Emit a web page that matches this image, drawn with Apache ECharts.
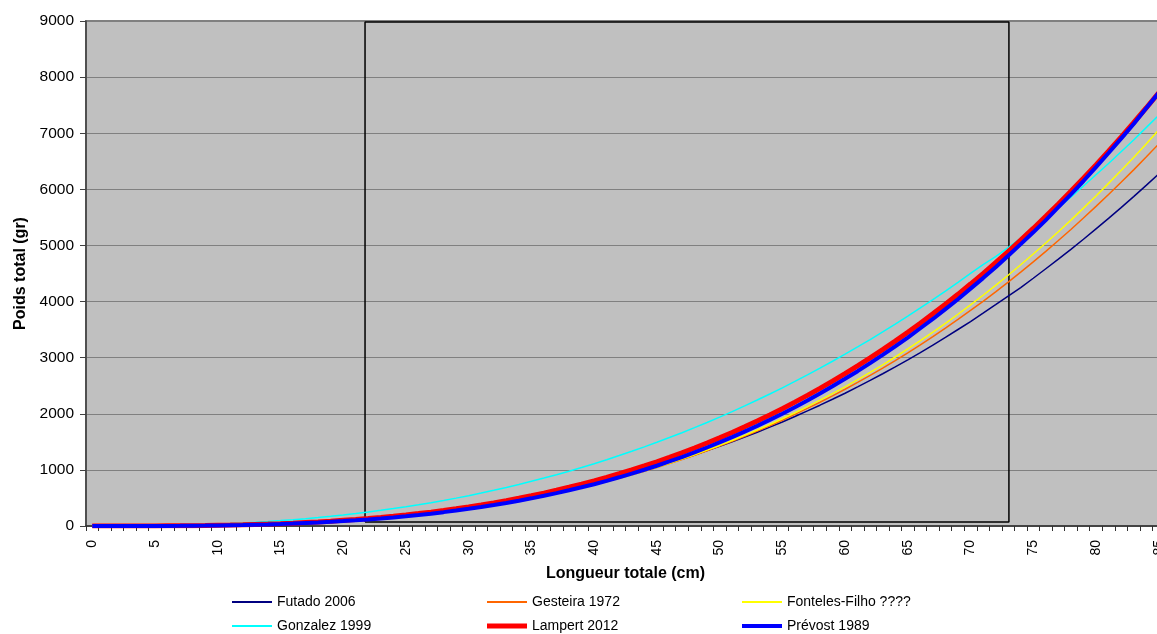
<!DOCTYPE html>
<html>
<head>
<meta charset="utf-8">
<script src="https://cdn.jsdelivr.net/npm/echarts@6/dist/echarts.min.js"></script>
<style>html,body{margin:0;padding:0;background:#fff;overflow:hidden;}#c{width:1157px;height:634px;}</style>
</head>
<body>
<div id="c"></div>
<script>
// Longueur totale (cm) categories 0..85
const lengths = [];
for (let i = 0; i <= 85; i++) lengths.push(String(i));

const futado = [0,0,0,1,1,2,4,6,8,12,16,20,26,33,40,49,59,69,81,95,109,125,143,162,182,204,228,253,280,309,339,372,407,444,482,523,566,611,659,708,760,814,872,931,993,1057,1124,1194,1266,1343,1420,1501,1585,1671,1762,1854,1951,2051,2153,2259,2366,2479,2594,2713,2835,2961,3090,3225,3360,3502,3644,3793,3944,4098,4250,4415,4585,4755,4930,5110,5296,5483,5675,5870,6070,6273];
const gesteira = [0,0,0,0,1,2,3,4,6,9,13,17,21,27,33,40,49,59,70,82,96,110,126,144,164,184,207,231,258,286,315,347,382,418,456,497,540,586,633,684,736,792,851,912,977,1043,1113,1186,1262,1341,1423,1509,1598,1690,1786,1885,1989,2095,2206,2319,2437,2559,2684,2815,2949,3086,3229,3376,3526,3681,3842,4004,4174,4347,4525,4707,4894,5088,5285,5488,5696,5907,6125,6347,6575,6809];
const fonteles = [0,0,0,0,1,1,2,4,6,8,11,15,20,25,32,39,47,56,67,79,92,106,122,140,159,179,202,226,252,281,310,342,377,413,452,493,536,582,631,682,735,792,851,913,979,1047,1119,1193,1270,1352,1436,1524,1615,1710,1809,1911,2018,2128,2242,2360,2481,2608,2738,2873,3012,3155,3303,3456,3612,3774,3941,4112,4288,4469,4656,4847,5043,5245,5452,5665,5882,6106,6335,6569,6809,7056];
const gonzalez = [0,0,1,2,4,6,10,14,20,27,35,44,55,67,81,96,112,131,151,173,196,222,249,279,310,343,378,416,455,497,541,587,636,687,740,796,854,914,977,1043,1111,1182,1255,1331,1410,1492,1576,1663,1753,1845,1941,2039,2141,2245,2353,2463,2577,2693,2813,2936,3062,3191,3323,3459,3598,3740,3886,4034,4187,4342,4501,4660,4800,4960,5130,5300,5480,5670,5860,6060,6260,6460,6670,6880,7100,7320];
const lampert = [0,0,0,0,1,2,3,4,6,9,13,17,22,28,34,42,51,62,73,86,101,116,134,153,174,196,221,247,276,307,339,374,412,452,494,539,586,637,690,746,804,866,931,999,1071,1145,1224,1305,1390,1479,1571,1667,1767,1871,1979,2091,2208,2328,2453,2582,2715,2853,2996,3143,3295,3452,3614,3781,3952,4129,4312,4499,4692,4890,5094,5303,5518,5739,5965,6198,6436,6680,6931,7187,7450,7720];
const prevost = [0,0,0,0,1,1,2,3,5,7,10,14,18,23,28,35,43,53,62,74,87,101,117,134,153,173,196,220,247,276,306,338,374,411,451,493,538,586,637,690,745,805,868,933,1002,1074,1151,1229,1312,1399,1489,1584,1682,1785,1892,2001,2117,2237,2360,2489,2623,2759,2903,3049,3203,3359,3524,3690,3865,4042,4230,4418,4612,4817,5023,5234,5452,5682,5911,6148,6397,6647,6903,7165,7443,7720];

const seriesNames = ['Futado 2006','Gesteira 1972','Fonteles-Filho ????','Gonzalez 1999','Lampert 2012','Prévost 1989'];
const seriesData = [futado, gesteira, fonteles, gonzalez, lampert, prevost];
const seriesColors = ['#000080','#ff6600','#ffff00','#00ffff','#ff0000','#0000ff'];
const seriesWidths = [1.5,1.5,1.5,1.5,5,4];

// Framed range (in axis units): length 21.7..73.1, weight 70..8980
const boxX = [21.74, 73.06];
const boxY = [70, 8980];

const yTicks = {min: 0, max: 9000, interval: 1000};

const FONT = 'Liberation Sans, Arial, sans-serif';
const chart = echarts.init(document.getElementById('c'));

const series = seriesNames.map((n, i) => ({
  name: n,
  type: 'line',
  data: seriesData[i],
  xAxisIndex: 0,
  yAxisIndex: 0,
  symbol: 'none',
  showSymbol: false,
  smooth: false,
  lineStyle: {color: seriesColors[i], width: seriesWidths[i]},
  itemStyle: {color: seriesColors[i]},
  z: 3 + i,
  animation: false
}));

series.unshift({
  name: 'cadre',
  type: 'line',
  xAxisIndex: 1,
  yAxisIndex: 0,
  data: [[boxX[0], boxY[0]], [boxX[1], boxY[0]], [boxX[1], boxY[1]], [boxX[0], boxY[1]], [boxX[0], boxY[0]]],
  symbol: 'none',
  lineStyle: {color: '#000', width: 1.5},
  z: 2,
  silent: true,
  animation: false
});

// legend positions: 3 columns x 2 rows
const legendLayout = [[232, 0], [487, 0], [742, 0], [232, 1], [487, 1], [742, 1]];
const legendOrder = [0, 1, 2, 3, 4, 5];
const legends = legendOrder.map((si, k) => ({
  orient: 'horizontal',
  left: legendLayout[k][0],
  top: (legendLayout[k][1] === 0 ? 602 : 626) - 8,
  padding: 0,
  itemWidth: 40,
  itemHeight: Math.max(2, Math.round(seriesWidths[si])),
  data: [{name: seriesNames[si], icon: 'rect', itemStyle: {color: seriesColors[si]}}],
  textStyle: {fontFamily: FONT, fontSize: 14, color: '#000', lineHeight: 16},
  selectedMode: false
}));

chart.setOption({
  animation: false,
  backgroundColor: '#fff',
  grid: {left: 86, width: 1079, top: 21, bottom: 108, outerBoundsMode: 'none', containLabel: false, show: true, backgroundColor: '#c0c0c0', borderColor: '#808080', borderWidth: 2},
  legend: legends,
  xAxis: [{
    type: 'category',
    data: lengths,
    boundaryGap: true,
    name: 'Longueur totale (cm)',
    nameLocation: 'middle',
    nameGap: 40,
    nameTextStyle: {fontFamily: FONT, fontSize: 16, fontWeight: 'bold', color: '#000'},
    axisLine: {show: true, onZero: false, lineStyle: {color: '#303030', width: 1.5}},
    axisTick: {show: true, interval: 0, length: 5, lineStyle: {color: '#303030'}},
    axisLabel: {interval: 4, rotate: 90, margin: 14, fontFamily: FONT, fontSize: 14, color: '#000'},
    splitLine: {show: false}
  }, {
    type: 'value', min: -0.5, max: 85.5, show: false
  }],
  yAxis: {
    type: 'value',
    min: yTicks.min, max: yTicks.max, interval: yTicks.interval,
    name: 'Poids total (gr)',
    nameLocation: 'middle',
    nameGap: 57,
    nameTextStyle: {fontFamily: FONT, fontSize: 16, fontWeight: 'bold', color: '#000'},
    axisLine: {show: true, onZero: false, lineStyle: {color: '#404040', width: 1.5}},
    axisTick: {show: true, length: 6, lineStyle: {color: '#404040'}},
    axisLabel: {margin: 12, fontFamily: FONT, fontSize: 15.5, color: '#000', formatter: v => String(v)},
    splitLine: {show: true, lineStyle: {color: '#808080', width: 1}}
  },
  series: series
});
</script>
</body>
</html>
